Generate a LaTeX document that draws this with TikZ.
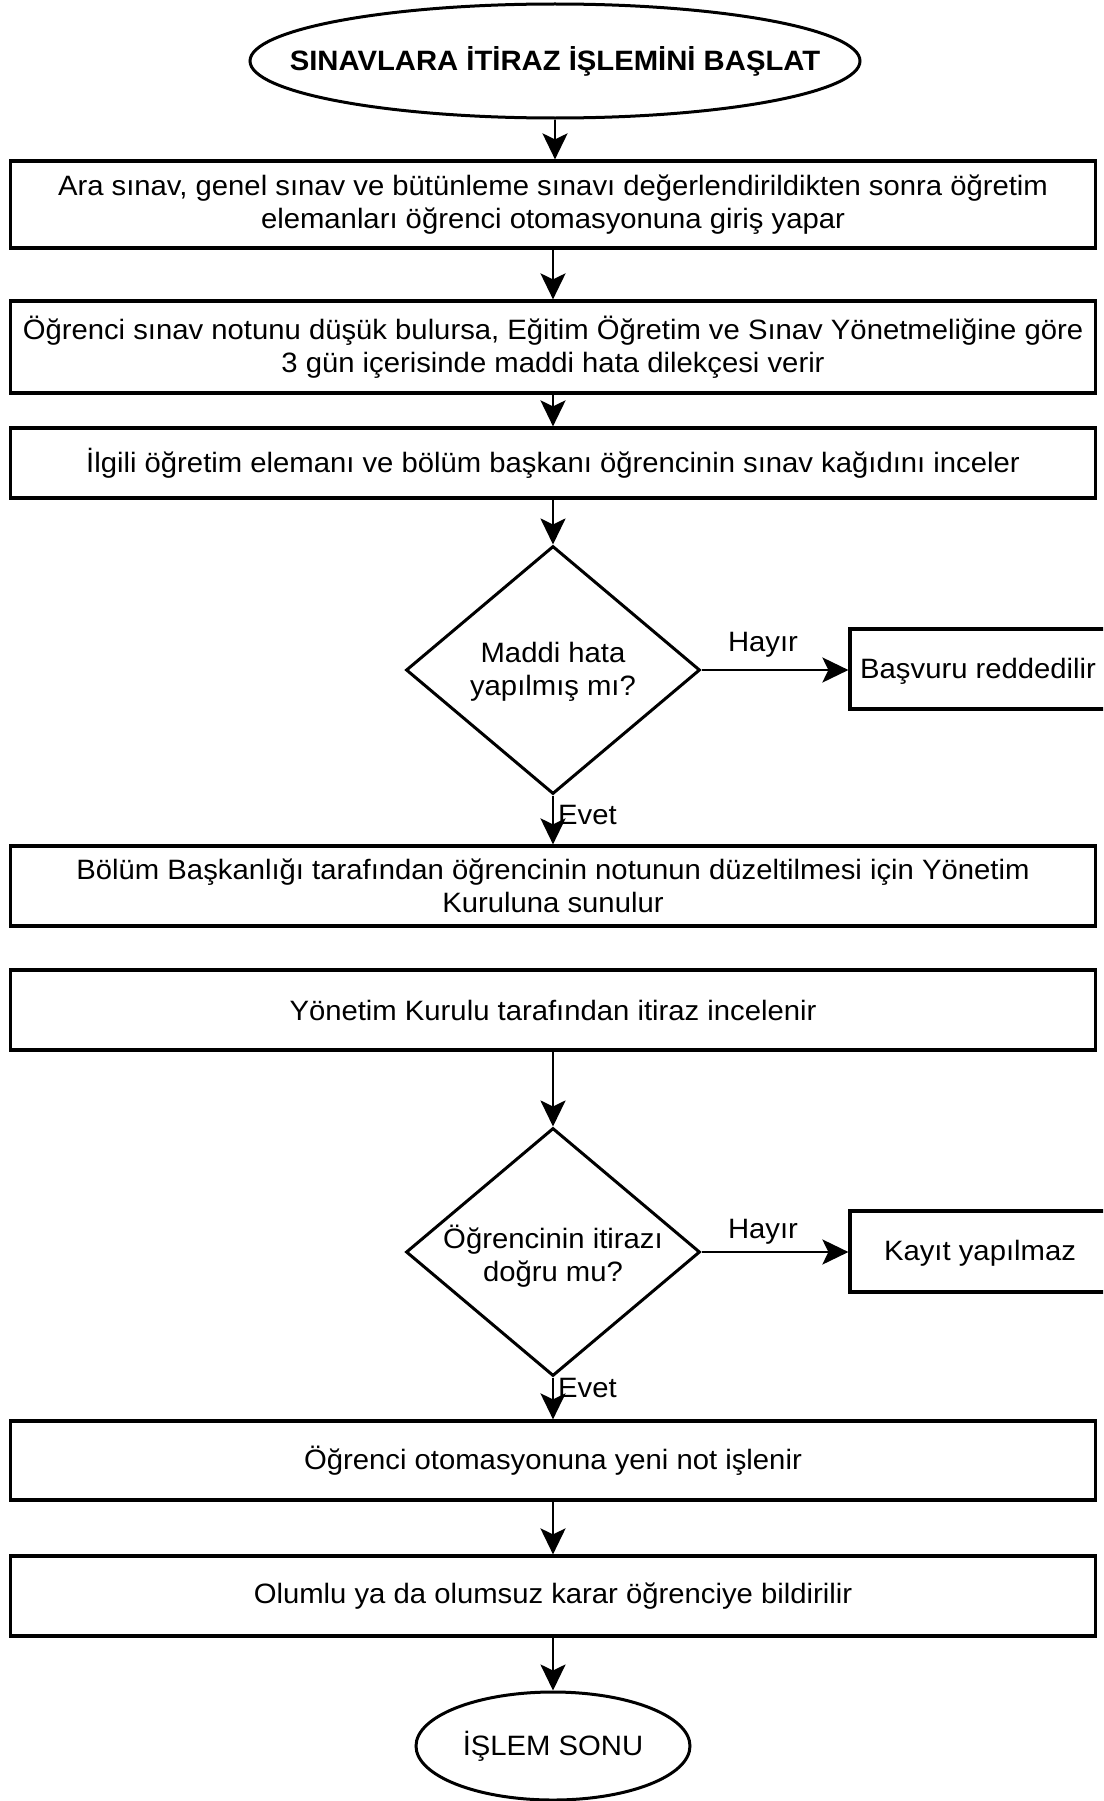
\documentclass[tikz,border=0pt]{standalone}
\usepackage{fontspec}
\setmainfont[FakeStretch=1.045]{Liberation Sans}
\usetikzlibrary{shapes.geometric,arrows.meta}
\begin{document}
\begin{tikzpicture}[x=1pt,y=-1pt,
  txt/.style={font=\fontsize{28}{33.5}\selectfont, align=center, inner sep=0pt},
  procbox/.style={draw, line width=3.2pt, rectangle, minimum width=1085pt, minimum height=#1, inner sep=0pt, align=center, font=\fontsize{28}{33.5}\selectfont},
  sidebox/.style={draw, line width=3.2pt, rectangle, minimum width=264pt, minimum height=#1, inner sep=0pt},
  decision/.style={draw, line width=3pt, diamond, minimum width=294pt, minimum height=248pt, inner sep=0pt},
  term/.style={draw, line width=3pt, ellipse, inner sep=0pt},
  flow/.style={line width=2.8pt, -{Stealth[length=26pt, width=25pt, inset=6pt]}}
]
\useasboundingbox (0,0) rectangle (1103,1801);
\clip (0,0) rectangle (1103,1801);

% start
\node[term, minimum width=610pt, minimum height=114pt] (start) at (555,61) {};
\node[txt, font=\fontsize{28}{33.5}\selectfont\bfseries] (startt) at (start.center) {SINAVLARA İTİRAZ İŞLEMİNİ BAŞLAT};

\node[procbox=87pt] (b1) at (553,204.5) {Ara sınav, genel sınav ve bütünleme sınavı değerlendirildikten sonra öğretim\\elemanları öğrenci otomasyonuna giriş yapar};
\node[procbox=92pt] (b2) at (553,347) {Öğrenci sınav notunu düşük bulursa, Eğitim Öğretim ve Sınav Yönetmeliğine göre\\3 gün içerisinde maddi hata dilekçesi verir};
\node[procbox=70pt] (b3) at (553,463) {İlgili öğretim elemanı ve bölüm başkanı öğrencinin sınav kağıdını inceler};

% decision 1
\node[decision] (d1) at (553,670) {};
\node[txt] (d1t) at (553,672) {Maddi hata\\yapılmış mı?};
\node[sidebox=80pt] (r1) at (982,669) {};
\node[txt, anchor=west] (r1t) at (860,671) {Başvuru reddedilir};
\node[txt] (h1) at (763,645) {Hayır};
\node[txt, anchor=west] (e1) at (558,815) {Evet};

\node[procbox=80pt] (b4) at (553,886) {Bölüm Başkanlığı tarafından öğrencinin notunun düzeltilmesi için Yönetim\\Kuruluna sunulur};
\node[procbox=80pt] (b5) at (553,1010) {Yönetim Kurulu tarafından itiraz incelenir};

% decision 2
\node[decision] (d2) at (553,1252) {};
\node[txt] (d2t) at (553,1256) {Öğrencinin itirazı\\doğru mu?};
\node[sidebox=81pt] (r2) at (982,1251.5) {};
\node[txt] (r2t) at (980,1253) {Kayıt yapılmaz};
\node[txt] (h2) at (763,1232) {Hayır};
\node[txt, anchor=west] (e2) at (558,1388) {Evet};

\node[procbox=79pt] (b6) at (553,1460.5) {Öğrenci otomasyonuna yeni not işlenir};
\node[procbox=80pt] (b7) at (553,1596) {Olumlu ya da olumsuz karar öğrenciye bildirilir};

\node[term, minimum width=274pt, minimum height=108pt, font=\fontsize{28}{33.5}\selectfont] (end) at (553,1746) {İŞLEM SONU};

% connectors
\draw[flow] (start.south) -- (b1.north -| start.south);
\draw[flow] (b1.south) -- (b2.north);
\draw[flow] (b2.south) -- (b3.north);
\draw[flow] (b3.south) -- (d1.north);
\draw[flow] (d1.east) -- (d1.east -| r1.west);
\draw[flow] (d1.south) -- (b4.north);
\draw[flow] (b5.south) -- (d2.north);
\draw[flow] (d2.east) -- (d2.east -| r2.west);
\draw[flow] (d2.south) -- (b6.north);
\draw[flow] (b6.south) -- (b7.north);
\draw[flow] (b7.south) -- (end.north);
\end{tikzpicture}
\end{document}
